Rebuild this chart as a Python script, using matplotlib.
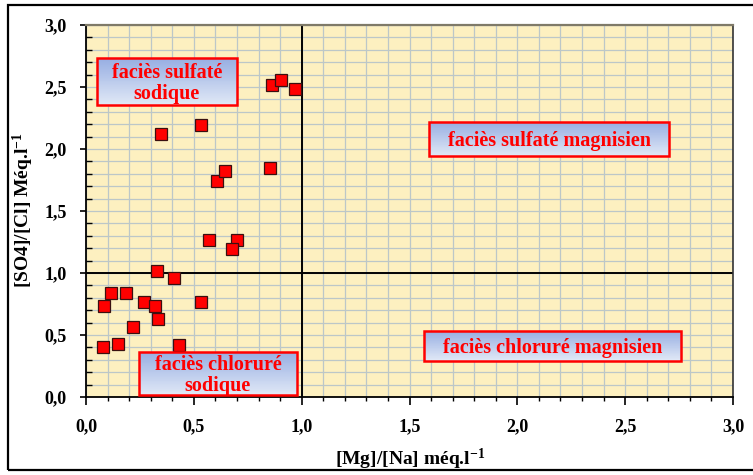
import numpy as np
import matplotlib
matplotlib.use("Agg")
import matplotlib.pyplot as plt
from matplotlib.patches import Rectangle
from matplotlib.colors import LinearSegmentedColormap
from matplotlib.ticker import MultipleLocator, FuncFormatter

plt.rcParams['font.family'] = ['Liberation Serif', 'DejaVu Serif']
plt.rcParams['font.weight'] = 'bold'
plt.rcParams['mathtext.default'] = 'regular'

# Data: [Mg]/[Na] (x) and [SO4]/[Cl] (y)
mg_na = [0.349, 0.535, 0.862, 0.904, 0.970, 0.606, 0.643, 0.855,
         0.572, 0.700, 0.678, 0.331, 0.410, 0.114, 0.187, 0.085,
         0.267, 0.320, 0.533, 0.334, 0.218, 0.079, 0.148, 0.433]
so4_cl = [2.12, 2.19, 2.52, 2.56, 2.48, 1.74, 1.82, 1.85,
          1.27, 1.27, 1.19, 1.02, 0.957, 0.84, 0.84, 0.73,
          0.77, 0.73, 0.77, 0.63, 0.565, 0.40, 0.43, 0.417]

xticks = [0.0, 0.5, 1.0, 1.5, 2.0, 2.5, 3.0]
yticks = [0.0, 0.5, 1.0, 1.5, 2.0, 2.5, 3.0]

box_texts = ["faciès sulfaté\nsodique", "faciès sulfaté magnisien",
             "faciès chloruré magnisien", "faciès chloruré\nsodique"]
# box extents (x0, x1, y0, y1) in data units
box_extents = [(0.051, 0.700, 2.355, 2.734),
               (1.592, 2.703, 1.944, 2.218),
               (1.567, 2.757, 0.293, 0.535),
               (0.246, 0.978, 0.016, 0.365)]

fig = plt.figure(figsize=(7.53, 4.75), dpi=100)
ax = fig.add_axes([86/753, 1-397/475, (733-86)/753, (397-25)/475])
ax.set_facecolor('#FDF0C0')

ax.set_xlim(0, 3)
ax.set_ylim(0, 3)
ax.set_xticks(xticks)
ax.set_yticks(yticks)
ax.xaxis.set_minor_locator(MultipleLocator(0.1))
ax.yaxis.set_minor_locator(MultipleLocator(0.1))
fmt = FuncFormatter(lambda v, p: f"{v:.1f}".replace('.', ','))
ax.xaxis.set_major_formatter(fmt)
ax.yaxis.set_major_formatter(fmt)
ax.grid(which='both', color='#BCC7C8', linewidth=0.9, zorder=0)
ax.set_axisbelow(True)

ax.tick_params(axis='x', which='major', direction='out', length=6, width=1.2, pad=9,
               labelsize=13, colors='black')
ax.tick_params(axis='x', which='minor', direction='out', length=3, width=1.0)
ax.tick_params(axis='y', which='major', direction='out', length=4, width=1.2, pad=10,
               labelsize=13, colors='black')
ax.tick_params(axis='y', which='minor', direction='in', length=4, width=1.0)

for s in ['left', 'bottom']:
    ax.spines[s].set_color('black')
    ax.spines[s].set_linewidth(1.3)
ax.spines['top'].set_color('#7F7A68')
ax.spines['top'].set_linewidth(1.6)
ax.spines['right'].set_color('#333333')
ax.spines['right'].set_linewidth(1.2)

ax.axvline(1.0, color='black', linewidth=1.4, zorder=2)
ax.axhline(1.0, color='black', linewidth=1.4, zorder=2)

ax.plot(mg_na, so4_cl, linestyle='none', marker='s', markersize=8.2,
        markerfacecolor='#FF0000', markeredgecolor='#3A1010', markeredgewidth=0.9,
        zorder=3, clip_on=False)

# gradient: dark blue at top, light at bottom
cmap = LinearSegmentedColormap.from_list('g', ['#E0E8F6', '#97AEE2'])
N = 48
for txt, (x0, x1, y0, y1) in zip(box_texts, box_extents):
    ys = np.linspace(y0, y1, N + 1)
    vals = np.linspace(0, 1, N).reshape(-1, 1)
    ax.pcolormesh([x0, x1], ys, vals, cmap=cmap, vmin=0, vmax=1,
                  shading='flat', zorder=4, edgecolors='none', antialiased=False)
    ax.add_patch(Rectangle((x0, y0), x1-x0, y1-y0, fill=False,
                           edgecolor='#FF0000', linewidth=1.8, zorder=5))
    ax.annotate(txt, xy=((x0+x1)/2, (y0+y1)/2), xytext=(0, -1.5),
                textcoords='offset points', ha='center', va='center',
                color='#FF0000', fontsize=14.5, fontweight='bold',
                linespacing=1.05, zorder=6)

ax.set_xlim(0, 3)
ax.set_ylim(0, 3)

fig.text(410/753, 1-459/475, r'[Mg]/[Na] méq.l$^{-1}$', ha='center', va='center',
         fontsize=14, fontweight='bold', color='black')
fig.text(23/753, 1-210/475, r'[SO4]/[Cl] Méq.l$^{-1}$', ha='center', va='center',
         rotation=90, fontsize=14, fontweight='bold', color='black')

fig.patches.append(Rectangle((8/753, 5/475), 1.0, 465/475, transform=fig.transFigure,
                             fill=False, edgecolor='black', linewidth=1.6))

fig.savefig('out.png', dpi=100)
